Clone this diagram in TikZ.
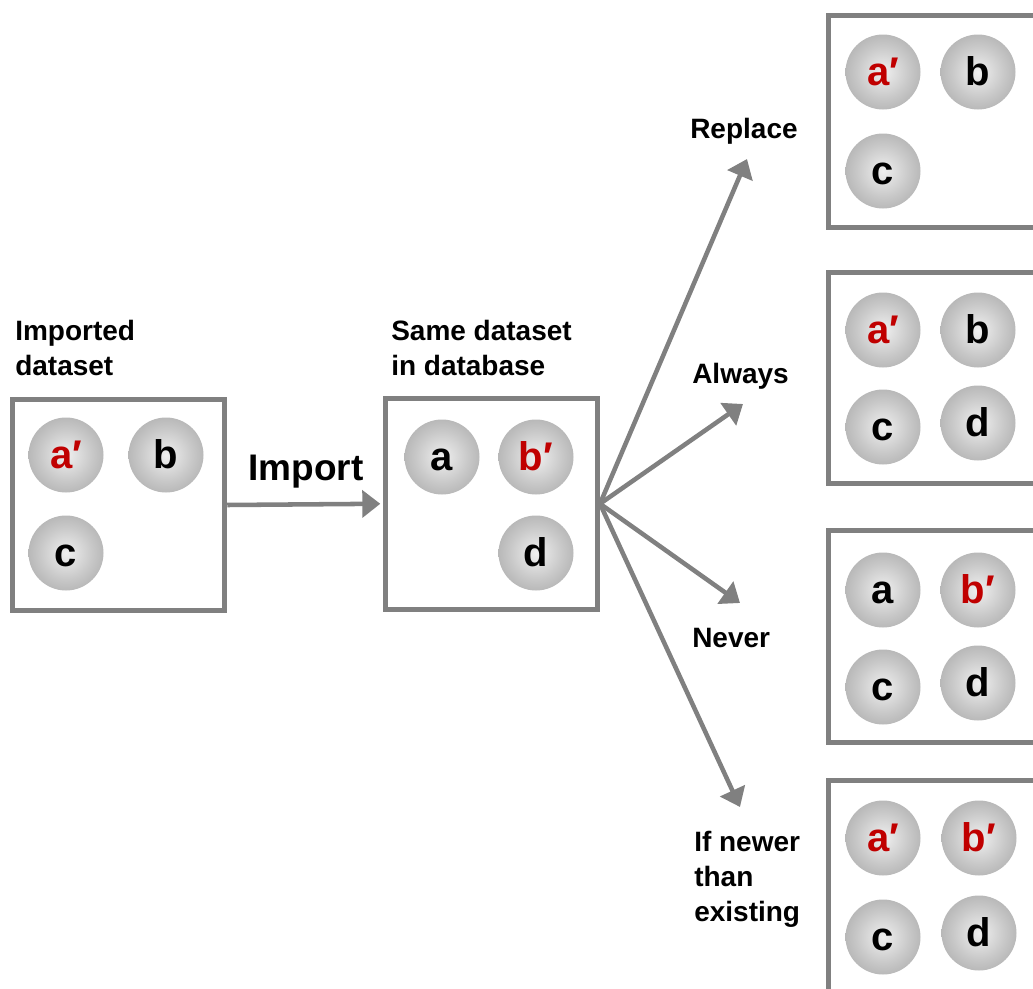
\documentclass[tikz,border=0pt]{standalone}
\usepackage{fontspec}
\setmainfont{Liberation Sans}
\usetikzlibrary{arrows.meta}
\definecolor{linegray}{HTML}{808080}
\definecolor{primered}{HTML}{C00000}
\pgfdeclareradialshading{ballshade}{\pgfpoint{0bp}{0bp}}{color(0bp)=(black!6); color(18bp)=(black!22); color(38bp)=(black!38); color(50bp)=(black!56)}
\newcommand{\rd}[1]{\textcolor{primered}{#1}}
\begin{document}
\begin{tikzpicture}[x=0.75pt, y=-0.75pt,
  box/.style={draw=linegray, line width=3.75pt, minimum width=159pt, minimum height=158.5pt, inner sep=0pt},
  rbox/.style={box, minimum width=195pt},
  ball/.style={circle, shading=ballshade, minimum size=56.25pt, inner sep=0pt, text height=20.2pt, text depth=0pt, font=\bfseries\fontsize{30}{30}\selectfont},
  lbl/.style={font=\bfseries\fontsize{21}{26.25}\selectfont, align=left, inner sep=0pt, anchor=base west},
  arr/.style={draw=linegray, line width=3.4pt, -{Triangle[length=13.5pt, width=20pt]}}]
\useasboundingbox (0,0) rectangle (1033,989);
\clip (0,0) rectangle (1033,989);

% boxes
\node[box] (left) at (118.75,505) {};
\node[box] (mid) at (491.5,503.75) {};
\node[rbox] (r1) at (958,121.5) {};
\node[rbox] (r2) at (958,378) {};
\node[rbox] (r3) at (958,636.5) {};
\node[rbox] (r4) at (958,886.5) {};

% balls: imported dataset
\node[ball] (la) at (66,455) {\rd{a′}};
\node[ball] (lb) at (166,455) {b};
\node[ball] (lc) at (66,553) {c};
% balls: database
\node[ball] (ma) at (442,457) {a};
\node[ball] (mb) at (536,457) {\rd{b′}};
\node[ball] (md) at (536,553) {d};
% replace
\node[ball] (r1a) at (883,72) {\rd{a′}};
\node[ball] (r1b) at (978,72) {b};
\node[ball] (r1c) at (883,171) {c};
% always
\node[ball] (r2a) at (883,330) {\rd{a′}};
\node[ball] (r2b) at (978,330) {b};
\node[ball] (r2c) at (883,427) {c};
\node[ball] (r2d) at (978,423) {d};
% never
\node[ball] (r3a) at (883,590) {a};
\node[ball] (r3b) at (978,590) {\rd{b′}};
\node[ball] (r3c) at (883,687) {c};
\node[ball] (r3d) at (978,683) {d};
% if newer
\node[ball] (r4a) at (883,838) {\rd{a′}};
\node[ball] (r4b) at (979,838) {\rd{b′}};
\node[ball] (r4c) at (883,937) {c};
\node[ball] (r4d) at (979,933) {d};

% labels (anchor = baseline of last line)
\node[lbl] (limp) at (15,375) {Imported\\dataset};
\node[lbl] (lsame) at (391,375) {Same dataset\\in database};
\node[lbl] (lrep) at (690,138) {Replace};
\node[lbl] (lalw) at (692,383) {Always};
\node[lbl] (lnev) at (692,647) {Never};
\node[lbl] (lnew) at (694,921) {If newer\\than\\existing};
\node[inner sep=0pt, anchor=base west, font=\bfseries\fontsize{27.75}{30}\selectfont] (limport) at (248,480) {Import};

% arrows
\draw[arr, shorten >=2pt] (left.east) -- (mid.west);
\coordinate (tR) at (747,159);
\coordinate (tA) at (743,404);
\coordinate (tN) at (740,603);
\coordinate (tI) at (740,807);
\draw[arr] (mid.east) -- (tR);
\draw[arr] (mid.east) -- (tA);
\draw[arr] (mid.east) -- (tN);
\draw[arr] (mid.east) -- (tI);
\end{tikzpicture}
\end{document}
